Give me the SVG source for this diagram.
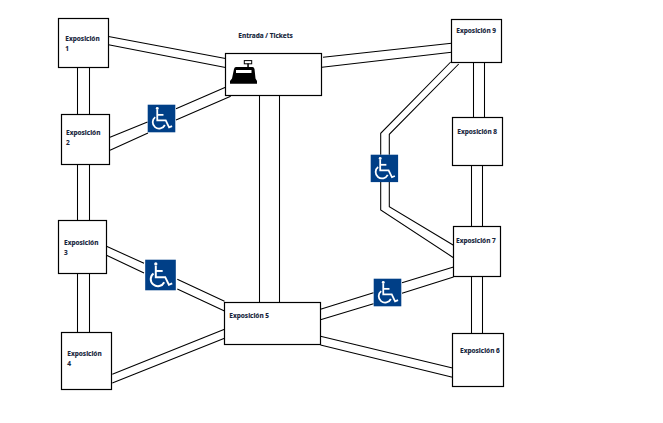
<svg xmlns="http://www.w3.org/2000/svg" width="663" height="423" viewBox="0 0 663 423">
<style>
.box{fill:#fff;stroke:#000;stroke-width:1.2}
.ln{fill:none;stroke:#000;stroke-width:1.05}
text{font-family:"Noto Sans","DejaVu Sans",sans-serif;font-size:6.5px;font-weight:700;fill:#14233a;stroke:#14233a;stroke-width:.12}
</style>
<defs>
<symbol id="wc" viewBox="0 0 28 28" overflow="visible">
<rect width="28" height="28" fill="#003f87"/>
<g fill="none" stroke="#fff" stroke-width="1.8">
<path d="M9.7 5.5V16H18.3L21.7 23L24.7 21.7"/>
<path d="M9.7 10.3H16"/>
<path d="M7.6 12.6A6.5 6.5 0 1 0 17.4 20.6"/>
</g>
<circle cx="9.7" cy="3.9" r="1.5" fill="#fff"/>
</symbol>
</defs>
<rect width="663" height="423" fill="#fff"/>
<g id="connectors" class="ln">
<path class="ln" d="M77.5 67V115M89.5 67V115M77.5 164V221M89.5 164V221M77.5 273V333M89.5 273V333"/>
<path class="ln" d="M108.5 36.4L225.5 58.4M108.5 44.7L225.5 67.6"/>
<path class="ln" d="M110 137.3L147.5 122M176 108.7L225.5 87.3M110 150.3L148 133M176 120L230.7 96.3"/>
<path class="ln" d="M259.5 95.5V302.5M279.5 95.5V302.5"/>
<path class="ln" d="M323 57.3L451.5 43.3M322 67.3L451.5 52.3"/>
<path class="ln" d="M450.7 62L380.7 133.3V154.7M458.7 64L389.3 134.3V154.7M380.7 182V210L453.5 257.7M389.3 182V206.7L453.5 245.3"/>
<path class="ln" d="M473.5 62.5V117.5M484.5 62.5V117.5M471.5 165.5V226.5M482.5 165.5V226.5M471.5 276.5V333.5M482.5 276.5V333.5"/>
<path class="ln" d="M320.5 309.3L373.5 292.7M402 282.7L453.5 267M320.5 319.7L373.5 303.7M402 293.3L453.5 277"/>
<path class="ln" d="M320.5 336.3L452.5 368M320.5 345L452.5 377.3"/>
<path class="ln" d="M112.3 374.3L224.5 329.3M112.3 383L224.5 338.3"/>
<path class="ln" d="M106.5 246.3L144 263.3M177.3 279.3L224.5 301.3M106.5 255.3L144 273M177.3 289L224.5 311"/>
</g>
<g id="exposicion-1"><rect class="box" x="58.5" y="18.5" width="50" height="49"/><text x="65.3" y="40.7">Exposición</text><text x="65.3" y="50.5">1</text></g>
<g id="exposicion-2"><rect class="box" x="61.5" y="114.5" width="48" height="50"/><text x="66" y="134.7">Exposición</text><text x="66" y="144.7">2</text></g>
<g id="exposicion-3"><rect class="box" x="58.5" y="220.5" width="48" height="53"/><text x="64" y="244.7">Exposición</text><text x="64" y="254.7">3</text></g>
<g id="exposicion-4"><rect class="box" x="61.5" y="332.5" width="50" height="57"/><text x="67.3" y="355.7">Exposición</text><text x="67.3" y="365.7">4</text></g>
<g id="exposicion-5"><rect class="box" x="224.5" y="302.5" width="96" height="42"/><text x="229.3" y="317.7">Exposición 5</text></g>
<g id="exposicion-6"><rect class="box" x="452.5" y="333.5" width="51" height="53"/><text x="460" y="352.7">Exposición 6</text></g>
<g id="exposicion-7"><rect class="box" x="453.5" y="226.5" width="47" height="50"/><text x="456" y="242.7">Exposición 7</text></g>
<g id="exposicion-8"><rect class="box" x="452.5" y="117.5" width="50" height="48"/><text x="457.3" y="133.7">Exposición 8</text></g>
<g id="exposicion-9"><rect class="box" x="451.5" y="19.5" width="50" height="43"/><text x="456.3" y="32.7">Exposición 9</text></g>
<g id="entrada">
<rect class="box" x="225.5" y="53.5" width="96" height="42"/>
<text x="238.3" y="37.7">Entrada / Tickets</text>
<rect x="244.3" y="60.6" width="7.4" height="3.2" fill="#fff" stroke="#000" stroke-width="1"/>
<rect x="247.3" y="63.5" width="1.5" height="3.5" fill="#000"/>
<path d="M236 67H252.5Q254 67 254.5 69L255.5 78.5L257 81V83.7H230V81L232 78.5L234 69Q234.5 67 236 67Z" fill="#000"/>
<rect x="236" y="70" width="15.5" height="3" fill="#fff"/>
</g>
<g id="accesible-1"><use href="#wc" x="147.7" y="104.7" width="27.6" height="27.6"/></g>
<g id="accesible-2"><use href="#wc" x="370.7" y="154.7" width="27.4" height="27.4"/></g>
<g id="accesible-3"><use href="#wc" x="145" y="259.7" width="31" height="30.6"/></g>
<g id="accesible-4"><use href="#wc" x="373.7" y="278.7" width="27.6" height="27.6"/></g>
</svg>
